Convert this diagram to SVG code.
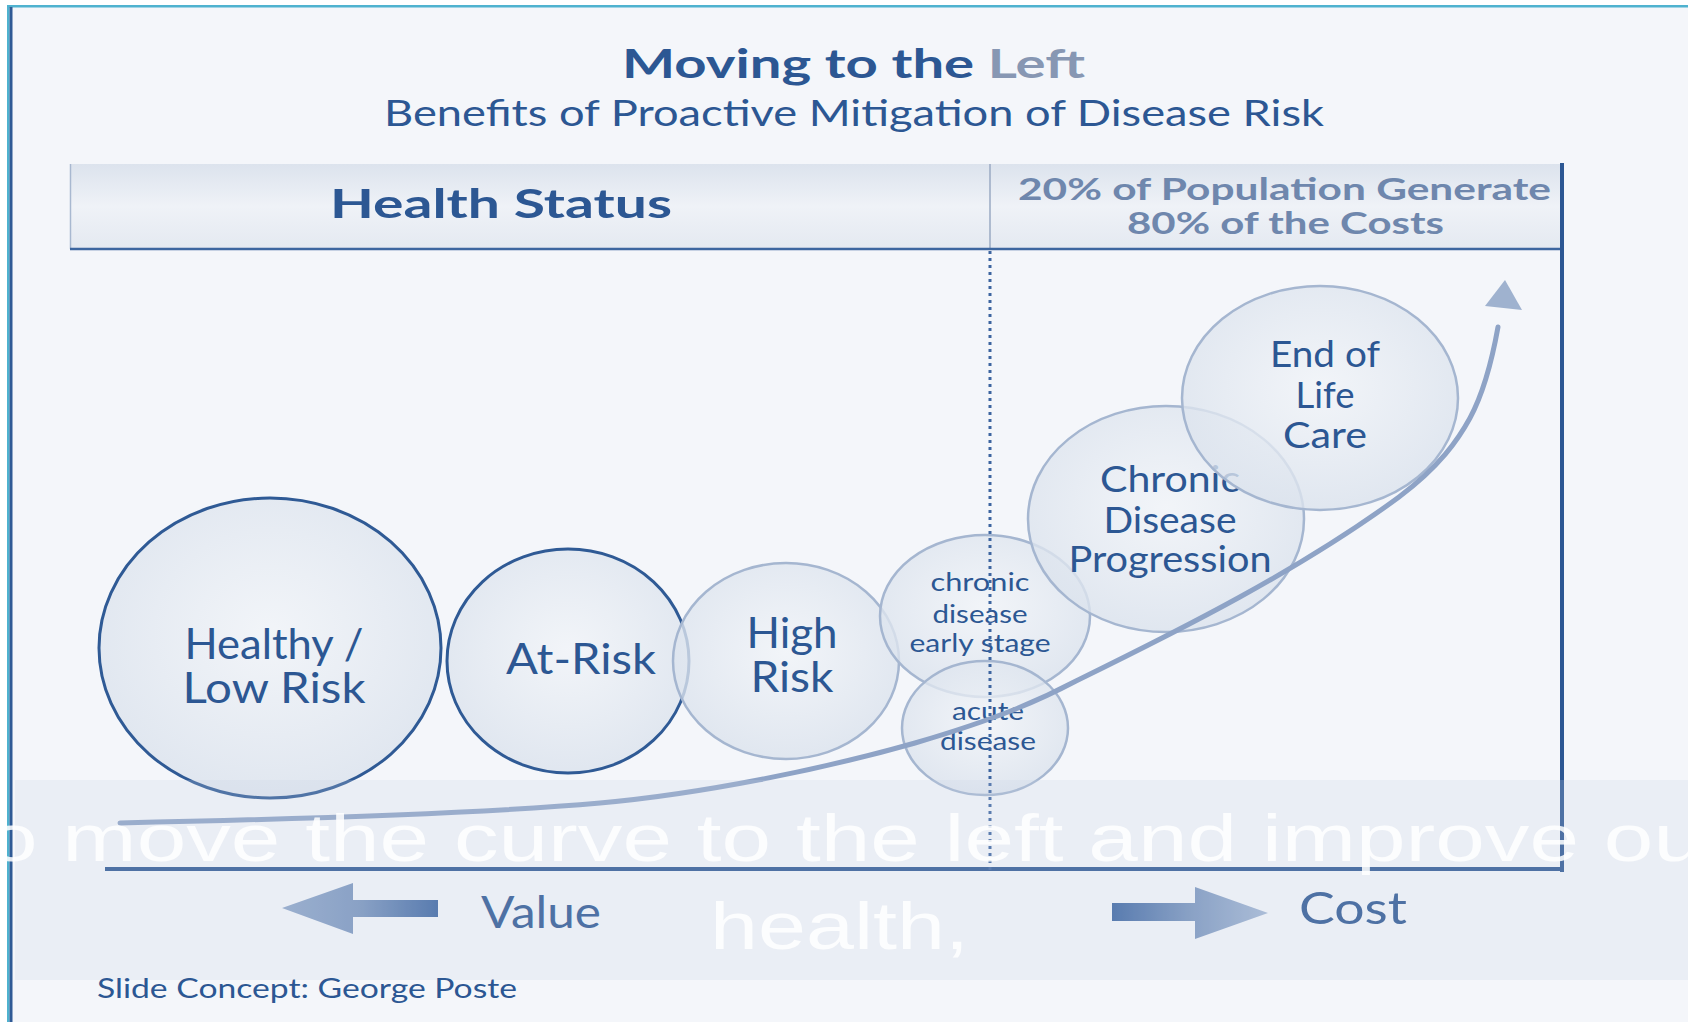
<svg xmlns="http://www.w3.org/2000/svg" width="1688" height="1022" viewBox="0 0 1688 1022">
<defs>
<style>
.t{font-family:Lato,"Open Sans","DejaVu Sans",sans-serif;fill:#2c5793}
.b{font-weight:bold}
.dark{fill:url(#cg);stroke:#2f5a95;stroke-width:3}
.lite{fill:url(#cg);stroke:#a5b6d0;stroke-width:2.5}
.lbl{font-size:43px;text-anchor:middle}
.sm{font-size:25px;text-anchor:middle}
.ov{font-family:"Liberation Sans",Arial,sans-serif;fill:#ffffff;fill-opacity:0.85;font-size:66px}
</style>
<radialGradient id="cg" cx="0.5" cy="0.45" r="0.6">
<stop offset="0" stop-color="#f1f4f8" stop-opacity="0.75"/>
<stop offset="1" stop-color="#d9e1ec" stop-opacity="0.8"/>
</radialGradient>
<linearGradient id="hg" x1="0" y1="0" x2="0" y2="1">
<stop offset="0" stop-color="#dce3ed"/>
<stop offset="0.5" stop-color="#eff2f7"/>
<stop offset="1" stop-color="#e4e9f1"/>
</linearGradient>
<linearGradient id="lag" x1="0" y1="0" x2="1" y2="0">
<stop offset="0" stop-color="#8ea6c9"/>
<stop offset="0.5" stop-color="#7894bd"/>
<stop offset="1" stop-color="#3a64a1"/>
</linearGradient>
<linearGradient id="rag" x1="0" y1="0" x2="1" y2="0">
<stop offset="0" stop-color="#3a64a1"/>
<stop offset="0.5" stop-color="#7894bd"/>
<stop offset="1" stop-color="#a3b7d4"/>
</linearGradient>
</defs>

<rect x="0" y="0" width="1688" height="1022" fill="#ffffff"/>
<rect x="8" y="6" width="1680" height="1016" fill="#f4f6fa"/>
<rect x="7" y="5" width="1681" height="2.5" fill="#4fb2cf"/>
<rect x="7" y="5" width="2.5" height="1017" fill="#4fb2cf"/>
<rect x="9.5" y="7" width="3" height="1015" fill="#2f5a95"/>

<!-- title -->
<text class="t b" x="622" y="78" font-size="40" textLength="463" lengthAdjust="spacingAndGlyphs">Moving to the <tspan fill="#8797b3">Left</tspan></text>
<text class="t" x="384" y="126" font-size="36" textLength="940" lengthAdjust="spacingAndGlyphs">Benefits of Proactive Mitigation of Disease Risk</text>

<!-- header -->
<g id="header">
<rect x="70" y="164" width="1492" height="85" fill="url(#hg)"/>
<line x1="70.5" y1="164" x2="70.5" y2="249" stroke="#a8b8d0" stroke-width="1.5"/>
<line x1="990" y1="164" x2="990" y2="249" stroke="#9aaac3" stroke-width="1.5"/>
<line x1="70" y1="249" x2="1562" y2="249" stroke="#3d66a0" stroke-width="2.5"/>
<text class="t b" x="330" y="218" font-size="41" textLength="342" lengthAdjust="spacingAndGlyphs">Health Status</text>
<text class="t b" x="1018" y="200" font-size="31" style="fill:#6f87ad" textLength="533" lengthAdjust="spacingAndGlyphs">20% of Population Generate</text>
<text class="t b" x="1127" y="234" font-size="31" style="fill:#6f87ad" textLength="317" lengthAdjust="spacingAndGlyphs">80% of the Costs</text>
</g>

<!-- frame lines -->
<line x1="1562" y1="163" x2="1562" y2="872" stroke="#2c5793" stroke-width="4"/>
<line x1="105" y1="869" x2="1564" y2="869" stroke="#2c5793" stroke-width="4"/>

<!-- nodes -->
<g id="node-healthy">
<ellipse class="dark" cx="270" cy="648" rx="171" ry="150"/>
<text class="t lbl" x="274" y="659" textLength="179" lengthAdjust="spacingAndGlyphs">Healthy /</text>
<text class="t lbl" x="274" y="703" textLength="183" lengthAdjust="spacingAndGlyphs">Low Risk</text>
</g>
<g id="node-atrisk">
<ellipse class="dark" cx="568" cy="661" rx="121" ry="112"/>
<text class="t lbl" x="581" y="674" textLength="150" lengthAdjust="spacingAndGlyphs">At-Risk</text>
</g>
<g id="node-highrisk">
<ellipse class="lite" cx="786" cy="661" rx="113" ry="98"/>
<text class="t lbl" x="792" y="648" textLength="91" lengthAdjust="spacingAndGlyphs">High</text>
<text class="t lbl" x="792" y="692" textLength="83" lengthAdjust="spacingAndGlyphs">Risk</text>
</g>
<g id="node-early">
<ellipse class="lite" cx="985" cy="616" rx="105" ry="81"/>
<text class="t sm" x="980" y="591" textLength="99" lengthAdjust="spacingAndGlyphs">chronic</text>
<text class="t sm" x="980" y="623" textLength="95" lengthAdjust="spacingAndGlyphs">disease</text>
<text class="t sm" x="980" y="652" textLength="141" lengthAdjust="spacingAndGlyphs">early stage</text>
</g>
<g id="node-acute">
<ellipse class="lite" cx="985" cy="728" rx="83" ry="67"/>
<text class="t sm" x="988" y="720" textLength="72" lengthAdjust="spacingAndGlyphs">acute</text>
<text class="t sm" x="988" y="750" textLength="96" lengthAdjust="spacingAndGlyphs">disease</text>
</g>
<g id="node-chronic">
<ellipse class="lite" cx="1166" cy="519" rx="138" ry="113"/>
<text class="t lbl" x="1170" y="492" style="font-size:37px" textLength="140" lengthAdjust="spacingAndGlyphs">Chronic</text>
<text class="t lbl" x="1170" y="533" style="font-size:37px" textLength="133" lengthAdjust="spacingAndGlyphs">Disease</text>
<text class="t lbl" x="1170" y="572" style="font-size:37px" textLength="203" lengthAdjust="spacingAndGlyphs">Progression</text>
</g>
<g id="node-endoflife">
<ellipse class="lite" cx="1320" cy="398" rx="138" ry="112"/>
<text class="t lbl" x="1325" y="367" style="font-size:37px" textLength="110" lengthAdjust="spacingAndGlyphs">End of</text>
<text class="t lbl" x="1325" y="408" style="font-size:37px" textLength="59" lengthAdjust="spacingAndGlyphs">Life</text>
<text class="t lbl" x="1325" y="448" style="font-size:37px" textLength="84" lengthAdjust="spacingAndGlyphs">Care</text>
</g>

<!-- connectors -->
<g id="connectors">
<path d="M120,823 C350,818 500,812 600,803 C700,794 820,770 915,743 C1000,718 1040,700 1076,681 C1180,630 1300,570 1399,497 C1440,466 1458,440 1470,418 C1485,390 1493,355 1498,327" fill="none" stroke="#8ea3c6" stroke-width="5" stroke-linecap="round"/>
<polygon points="1505,280 1485,306 1522,310" fill="#9fb2cf"/>
<line x1="990" y1="251" x2="990" y2="870" stroke="#3d65a0" stroke-width="3" stroke-dasharray="3 4"/>
</g>

<!-- value / cost -->
<g id="value">
<polygon points="282,908 353,883 353,900 438,900 438,917 353,917 353,934" fill="url(#lag)"/>
<text class="t" x="481" y="928" font-size="44" textLength="120" lengthAdjust="spacingAndGlyphs">Value</text>
</g>
<g id="cost">
<polygon points="1112,903 1195,903 1195,887 1268,913 1195,939 1195,921 1112,921" fill="url(#rag)"/>
<text class="t" x="1299" y="924" font-size="44" textLength="108" lengthAdjust="spacingAndGlyphs">Cost</text>
</g>

<!-- overlay band -->
<rect x="15" y="780" width="1673" height="200" fill="#c9d3e2" fill-opacity="0.22"/>
<text class="ov" x="-12" y="861" textLength="1715" lengthAdjust="spacingAndGlyphs">o move the curve to the left and improve ou</text>
<text class="ov" x="710" y="949" textLength="259" lengthAdjust="spacingAndGlyphs">health,</text>

<text class="t" x="97" y="998" font-size="27" textLength="420" lengthAdjust="spacingAndGlyphs">Slide Concept: George Poste</text>
</svg>
